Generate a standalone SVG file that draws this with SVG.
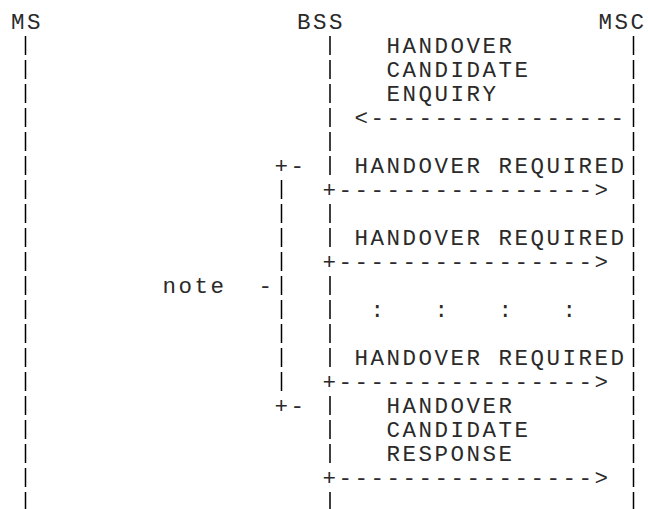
<svg xmlns="http://www.w3.org/2000/svg" width="648" height="509" viewBox="0 0 648 509">
<style>
text{font-family:"Liberation Mono","DejaVu Sans Mono",monospace;font-size:22.5px;letter-spacing:2.5px;fill:#2a2a2a;white-space:pre}
.life{stroke:#000;stroke-width:1.5;fill:none}
.dash{stroke-dasharray:19 5}
</style>
<rect width="648" height="509" fill="#fff"/>
<g id="node-ms">
<text x="11" y="28.5">MS</text>
<line class="life dash" x1="25.5" y1="36" x2="25.5" y2="511"/>
</g>
<g id="node-bss">
<text x="297" y="28.5">BSS</text>
<path class="life" d="M330 36V55M330 60V79M330 84V103M330 108V127M330 132V151M330 156V175M330 204V223M330 228V247M330 276V295M330 300V319M330 324V343M330 348V367M330 396V415M330 420V439M330 444V463M330 492V511"/>
</g>
<g id="node-msc">
<text x="598.5" y="28.5">MSC</text>
<line class="life dash" x1="633.5" y1="36" x2="633.5" y2="511"/>
</g>
<g id="note">
<text x="274.5" y="172.5">+-</text>
<path class="life" d="M281.5 180V199M281.5 204V223M281.5 228V247M281.5 252V271M281.5 276V295M281.5 300V319M281.5 324V343M281.5 348V367M281.5 372V391"/>
<text x="162.5" y="292.5">note</text>
<text x="258.5" y="292.5">-</text>
<text x="274.5" y="412.5">+-</text>
</g>
<g id="connectors">
<g id="msg-enquiry">
<text x="386.5" y="52.5">HANDOVER</text>
<text x="386.5" y="76.5">CANDIDATE</text>
<text x="386.5" y="100.5">ENQUIRY</text>
<text x="354.5" y="124.5">&lt;----------------</text>
</g>
<g id="msg-required-1">
<text x="354.5" y="172.5">HANDOVER REQUIRED</text>
<text x="322.5" y="196.5">+----------------&gt;</text>
</g>
<g id="msg-required-2">
<text x="354.5" y="244.5">HANDOVER REQUIRED</text>
<text x="322.5" y="268.5">+----------------&gt;</text>
</g>
<text x="370.5" y="316.5">:   :   :   :</text>
<g id="msg-required-3">
<text x="354.5" y="364.5">HANDOVER REQUIRED</text>
<text x="322.5" y="388.5">+----------------&gt;</text>
</g>
<g id="msg-response">
<text x="386.5" y="412.5">HANDOVER</text>
<text x="386.5" y="436.5">CANDIDATE</text>
<text x="386.5" y="460.5">RESPONSE</text>
<text x="322.5" y="484.5">+----------------&gt;</text>
</g>
</g>
</svg>
